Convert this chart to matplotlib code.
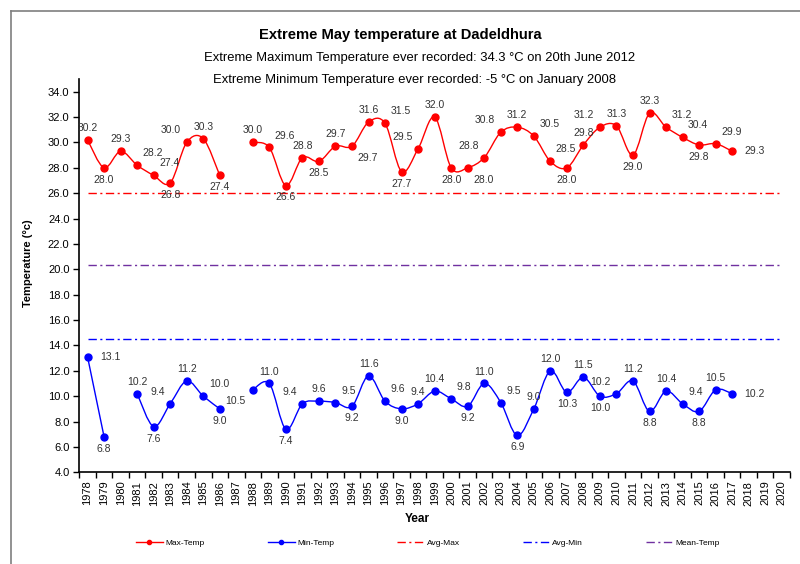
import numpy as np
import matplotlib.pyplot as plt
from matplotlib.path import Path
from matplotlib.patches import PathPatch
from matplotlib.lines import Line2D
from matplotlib.transforms import Bbox

plt.rcParams['font.family'] = ['Liberation Sans', 'DejaVu Sans']

# datos
years = list(range(1978, 2021))
max_temp = [30.2, 28.0, 29.3, 28.2, 27.4, 26.8, 30.0, 30.3, 27.4, None,
            30.0, 29.6, 26.6, 28.8, 28.5, 29.7, 29.7, 31.6, 31.5, 27.7,
            29.5, 32.0, 28.0, 28.0, 28.8, 30.8, 31.2, 30.5, 28.5, 28.0,
            29.8, 31.2, 31.3, 29.0, 32.3, 31.2, 30.4, 29.8, 29.9, 29.3,
            None, None, None]
min_temp = [13.1, 6.8, None, 10.2, 7.6, 9.4, 11.2, 10.0, 9.0, None,
            10.5, 11.0, 7.4, 9.4, 9.6, 9.5, 9.2, 11.6, 9.6, 9.0,
            9.4, 10.4, 9.8, 9.2, 11.0, 9.5, 6.9, 9.0, 12.0, 10.3,
            11.5, 10.0, 10.2, 11.2, 8.8, 10.4, 9.4, 8.8, 10.5, 10.2,
            None, None, None]
avg_max = 26.0
avg_min = 14.5
mean_temp = 20.3

title = 'Extreme May temperature at Dadeldhura'
sub1 = 'Extreme Maximum Temperature ever recorded: 34.3 °C on 20th June 2012'
sub2 = 'Extreme Minimum Temperature ever recorded: -5 °C on January 2008'

# posiciones posibles de una etiqueta: (desplazamiento, ha, va)
ABOVE = ((0, 5), 'center', 'bottom')
BELOW = ((0, -5), 'center', 'top')
RIGHT = ((9, 0), 'left', 'center')
LEFT = ((-5, -8), 'right', 'center')
UP_L = ((-4, 5), 'right', 'bottom')
UP_R = ((4, 5), 'left', 'bottom')
DN_L = ((-4, -5), 'right', 'top')
DN_R = ((4, -5), 'left', 'top')


def runs(vals):
    # separa la serie en tramos continuos (sin huecos)
    out, cur = [], []
    for i, v in enumerate(vals):
        if v is None:
            if cur:
                out.append(cur)
            cur = []
        else:
            cur.append((i, v))
    if cur:
        out.append(cur)
    return out


def smooth_path(pts):
    # curva suavizada tipo Excel (Bezier cubica, tension 1/6)
    p = np.array(pts, dtype=float)
    verts = [p[0]]
    codes = [Path.MOVETO]
    n = len(p)
    for i in range(n - 1):
        p0 = p[i - 1] if i > 0 else p[i]
        p3 = p[i + 2] if i + 2 < n else p[i + 1]
        c1 = p[i] + (p[i + 1] - p0) / 6
        c2 = p[i + 1] - (p3 - p[i]) / 6
        verts += [c1, c2, p[i + 1]]
        codes += [Path.CURVE4] * 3
    return Path(verts, codes)


def label_pos(vals, i):
    v = vals[i]
    prev = vals[i - 1] if i > 0 else None
    nxt = vals[i + 1] if i + 1 < len(vals) else None
    if nxt is None and prev is not None:
        if prev < v or i > 30:
            return RIGHT
        return BELOW
    if prev is None:
        if nxt is None or v - nxt > 3:
            return RIGHT
        if nxt > v:
            return LEFT
        return ABOVE
    if prev < v < nxt:
        return UP_L
    if prev > v > nxt:
        return UP_R
    if prev == v and nxt > v:
        return DN_R
    if v >= max(prev, nxt):
        return ABOVE
    return BELOW


placed = []


def draw_series(ax, vals, color):
    for seg in runs(vals):
        ax.add_patch(PathPatch(smooth_path(seg), fill=False, edgecolor=color, lw=1.0, zorder=3))
        xs = [s[0] for s in seg]
        ys = [s[1] for s in seg]
        ax.plot(xs, ys, 'o', color=color, ms=5, zorder=4)
    renderer = ax.figure.canvas.get_renderer()
    for i, v in enumerate(vals):
        if v is None:
            continue
        first = label_pos(vals, i)
        options = [first] + [c for c in (ABOVE, BELOW, UP_R, DN_R, UP_L, DN_L, RIGHT, LEFT) if c != first]
        for off, ha, va in options:
            ann = ax.annotate(f'{v:.1f}', (i, v), xytext=off, textcoords='offset points',
                              ha=ha, va=va, fontsize=7.5, color='#333333', zorder=5)
            bb = ann.get_window_extent(renderer)
            if not any(bb.overlaps(p) for p in placed):
                break
            ann.remove()
        else:
            ann = ax.annotate(f'{v:.1f}', (i, v), xytext=first[0], textcoords='offset points',
                              ha=first[1], va=first[2], fontsize=7.5, color='#333333', zorder=5)
            bb = ann.get_window_extent(renderer)
        placed.append(bb)


fig = plt.figure(figsize=(8, 5.64), dpi=100)
ax = fig.add_axes([0.0991, 0.1626, 0.8884, 0.6974])

x = np.arange(len(years))
dash = (0, (6, 2.5, 1.5, 2.5))
ax.plot([0, len(years) - 1], [avg_max, avg_max], color='red', lw=1, ls=dash)
ax.plot([0, len(years) - 1], [mean_temp, mean_temp], color='#7030A0', lw=1, ls=dash)
ax.plot([0, len(years) - 1], [avg_min, avg_min], color='blue', lw=1, ls=dash)

ax.set_xlim(-0.5, len(years) - 0.5)
ax.set_ylim(4, 35)

# los marcadores cuentan como obstaculos para las etiquetas
for serie in (max_temp, min_temp):
    for i, v in enumerate(serie):
        if v is not None:
            px, py = ax.transData.transform((i, v))
            placed.append(Bbox([[px - 3, py - 3], [px + 3, py + 3]]))

draw_series(ax, max_temp, 'red')
draw_series(ax, min_temp, 'blue')

ax.set_yticks(np.arange(4, 35, 2))
ax.set_yticklabels([f'{t:.1f}' for t in np.arange(4, 35, 2)], fontsize=8)
ax.set_xticks(x)
ax.set_xticklabels([str(y) for y in years], rotation=90, fontsize=8)
ax.set_xticks(np.arange(-0.5, len(years), 1), minor=True)
ax.tick_params(axis='x', which='major', length=0, pad=6)
ax.tick_params(axis='x', which='minor', length=4, width=1, direction='out')
ax.tick_params(axis='y', length=4, width=1, direction='out', pad=3)
for s in ['top', 'right']:
    ax.spines[s].set_visible(False)
for s in ['left', 'bottom']:
    ax.spines[s].set_linewidth(1.2)

fig.text(0.5, 1 - 35 / 564, title, ha='center', va='center', fontsize=10.6, fontweight='bold')
fig.text(420 / 800, 1 - 58 / 564, sub1, ha='center', va='center', fontsize=9.35)
fig.text(414.5 / 800, 1 - 80 / 564, sub2, ha='center', va='center', fontsize=9.35)
fig.text(28 / 800, 1 - 263 / 564, 'Temperature (°c)', rotation=90, ha='center', va='center',
         fontsize=8, fontweight='bold')
fig.text(417 / 800, 1 - 519 / 564, 'Year', ha='center', va='center', fontsize=8.5, fontweight='bold')

# leyenda
handles = [
    Line2D([], [], color='red', lw=1, marker='o', ms=3),
    Line2D([], [], color='blue', lw=1, marker='o', ms=3),
    Line2D([], [], color='red', lw=1, ls=dash),
    Line2D([], [], color='blue', lw=1, ls=dash),
    Line2D([], [], color='#7030A0', lw=1, ls=dash),
]
labels = ['Max-Temp', 'Min-Temp', 'Avg-Max', 'Avg-Min', 'Mean-Temp']
fig.legend(handles, labels, loc='center', bbox_to_anchor=(428 / 800, 1 - 543 / 564), ncol=5,
           frameon=False, fontsize=6, handlelength=3.2, handletextpad=0.3, columnspacing=7.6)

# marco exterior
fig.add_artist(Line2D([10.7 / 800, 10.7 / 800], [0, 1 - 10.7 / 564], color='#7f7f7f', lw=1.2))
fig.add_artist(Line2D([10.7 / 800, 1], [1 - 10.7 / 564, 1 - 10.7 / 564], color='#7f7f7f', lw=1.2))

fig.savefig('out.png', dpi=100)
